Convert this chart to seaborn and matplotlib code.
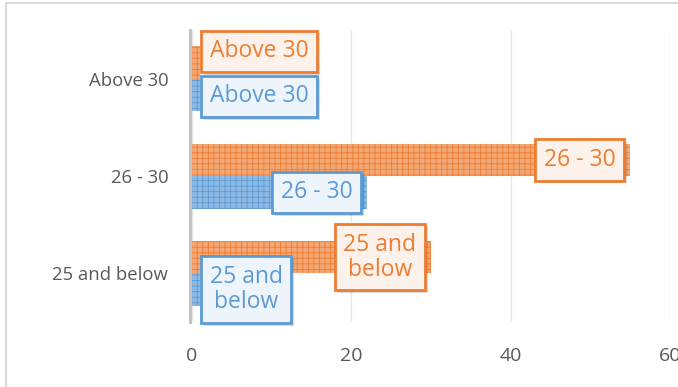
import matplotlib
matplotlib.use("Agg")
import matplotlib.pyplot as plt
import matplotlib.patheffects as pe
from matplotlib.patches import Rectangle
import seaborn as sns
import pandas as pd
import numpy as np

categories = ["Above 30", "26 - 30", "25 and below"]
label_text = ["Above 30", "26 - 30", "25 and\nbelow"]
series_names = ["Series 1", "Series 2"]
series1 = [1, 55, 30]
series2 = [1, 22, 1]

colors = ["#ED7D31", "#5B9BD5"]
fills = ["#F3A774", "#8DB9E3"]
box_fill = ["#FDF2EB", "#EEF4FB"]

df = pd.DataFrame({
    "group": categories * 2,
    "series": [series_names[0]] * 3 + [series_names[1]] * 3,
    "value": series1 + series2,
})

sns.set_theme(style="white")
plt.rcParams["font.family"] = ["Open Sans", "DejaVu Sans"]
plt.rcParams["hatch.linewidth"] = 0.6

fig = plt.figure(figsize=(6.78, 3.87), dpi=100)
ax = fig.add_axes([0.283, 0.168, 0.705, 0.754])

sns.barplot(data=df, y="group", x="value", hue="series", order=categories,
            hue_order=series_names, palette=colors, orient="h", width=0.67,
            dodge=True, legend=False, ax=ax, saturation=1)

for cont, fc, ec in zip(ax.containers, fills, colors):
    for bar in cont:
        bar.set_facecolor(fc)
        bar.set_edgecolor(ec)
        bar.set_hatch("+++")
        bar.set_linewidth(0)

ax.set_xlim(0, 60)
ax.set_ylim(2.5, -0.5)
ax.set_xticks([0, 20, 40, 60])
ax.xaxis.grid(True, color="#E6E6E6", linewidth=1)
ax.set_axisbelow(True)
for s in ["top", "right", "bottom"]:
    ax.spines[s].set_visible(False)
ax.spines["left"].set_color("#BFBFBF")
ax.spines["left"].set_linewidth(2)
ax.spines["left"].set_position(("outward", 1))
ax.set_xlabel("")
ax.set_ylabel("")
ax.tick_params(axis="x", length=0, labelsize=14, labelcolor="#595959", pad=18)
ax.tick_params(axis="y", which="major", length=0, labelsize=13.3,
               labelcolor="#595959", pad=16)
ax.set_yticks(np.arange(-0.5, 3.0, 1.0), minor=True)
ax.tick_params(axis="y", which="minor", length=6, width=2, color="#BFBFBF",
               direction="out")

# data labels: category name in a framed box at the bar end
offsets = {(0, 0): (0, 8), (1, 0): (0, -1)}
for si, (cont, vals) in enumerate(zip(ax.containers, [series1, series2])):
    for ci, (bar, v) in enumerate(zip(cont, vals)):
        yc = bar.get_y() + bar.get_height() / 2
        dx, dy = offsets.get((si, ci), (0, 0))
        if v < 10:
            x, ha, dx = v, "left", dx + 7
        else:
            x, ha, dx = v, "right", dx - 10.5
        t = ax.annotate(label_text[ci], xy=(x, yc), xytext=(dx, dy),
                        textcoords="offset points", ha=ha, va="center",
                        multialignment="center",
                        fontsize=16.5, color=colors[si], linespacing=1.05,
                        bbox=dict(boxstyle="square,pad=0.38", fc=box_fill[si],
                                  ec=colors[si], lw=2), zorder=5,
                        annotation_clip=False)
        t.get_bbox_patch().set_path_effects([
            pe.SimplePatchShadow(offset=(2, -2), shadow_rgbFace="#000000", alpha=0.15),
            pe.Normal(),
        ])

# chart frame
fig.patches.append(Rectangle((6 / 678, -0.1), 1.2, 1 - 3 / 387 + 0.1,
                             transform=fig.transFigure, fill=False,
                             ec="#D9D9D9", lw=1.5))

fig.savefig("out.png", dpi=100)
